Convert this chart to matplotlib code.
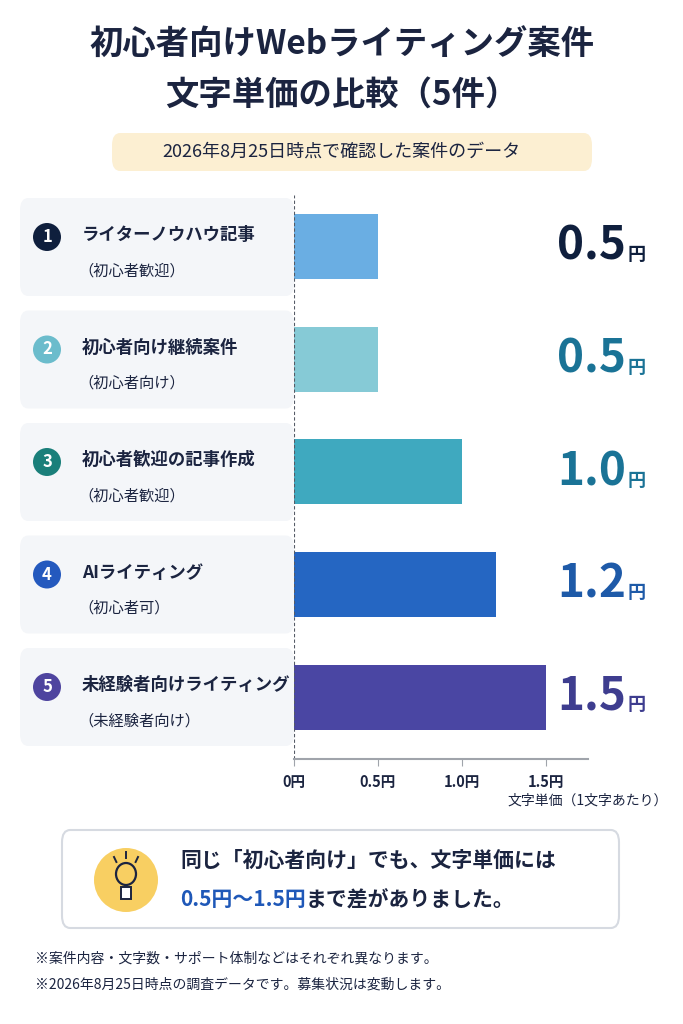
import matplotlib
matplotlib.use("Agg")
import matplotlib.pyplot as plt
from matplotlib.patches import FancyBboxPatch, Ellipse, Rectangle
from matplotlib.lines import Line2D

plt.rcParams['font.family'] = ['Noto Sans CJK JP', 'DejaVu Sans']

names = ["ライターノウハウ記事", "初心者向け継続案件", "初心者歓迎の記事作成", "AIライティング", "未経験者向けライティング"]
notes = ["（初心者歓迎）", "（初心者向け）", "（初心者歓迎）", "（初心者可）", "（未経験者向け）"]
prices = [0.5, 0.5, 1.0, 1.2, 1.5]
ticks = [0, 0.5, 1.0, 1.5]
tick_labels = ["0", "0.5", "1.0", "1.5"]

bar_colors = ["#6aaee3", "#86cad6", "#3fa9bf", "#2566c2", "#4a46a3"]
circle_colors = ["#0f1f3d", "#6bbccc", "#1a7f7a", "#2459be", "#4e449f"]
value_colors = ["#0f1f3d", "#1a7396", "#1a7396", "#1e5aa8", "#3e3d8f"]

W, H = 683, 1024
fig = plt.figure(figsize=(W / 100, H / 100), dpi=100)
fig.patch.set_facecolor("white")

def fx(px):
    return px / W

def fy(py):
    return 1 - py / H

# title
fig.text(0.5, fy(45), "初心者向けWebライティング案件", ha="center", va="center",
         fontsize=24, fontweight="bold", color="#1b2440")
fig.text(0.5, fy(95), "文字単価の比較（5件）", ha="center", va="center",
         fontsize=24, fontweight="bold", color="#1b2440")
fig.patches.append(FancyBboxPatch((fx(112), fy(171)), fx(480), 38 / H,
                                  boxstyle="round,pad=0,rounding_size=0.012",
                                  transform=fig.transFigure, fc="#fcefd2", ec="none"))
fig.text(0.5, fy(152), "2026年8月25日時点で確認した案件のデータ", ha="center", va="center",
         fontsize=13, color="#1b2440")

# bar axes
ax = fig.add_axes([fx(294), fy(759), fx(588 - 294), (759 - 195) / H])
rows = list(range(len(prices)))
ax.barh(rows, prices, height=65 / 112.5, color=bar_colors)
ax.set_xlim(0, 1.75)
ax.set_ylim(4.551, -0.462)
for s in ["top", "right", "left"]:
    ax.spines[s].set_visible(False)
ax.spines["bottom"].set_color("#a0a4ab")
ax.spines["bottom"].set_linewidth(1.5)
ax.axvline(0, color="#555b66", lw=0.8, ls=(0, (3, 2)))
ax.set_yticks([])
ax.set_xticks(ticks)
ax.set_xticklabels([t + "円" for t in tick_labels], fontsize=10.5, fontweight="bold", color="#1b2440")
ax.tick_params(axis="x", length=5, color="#a0a4ab", pad=6)
ax.patch.set_alpha(0)
fig.text(fx(668), fy(801), "文字単価（1文字あたり）", ha="right", va="center",
         fontsize=10, color="#1b2440")

# left label panels and values
for i in rows:
    cy = 247 + 112.5 * i
    fig.patches.append(FancyBboxPatch((fx(20), fy(cy + 49)), fx(274), 98 / H,
                                      boxstyle="round,pad=0,rounding_size=0.012",
                                      transform=fig.transFigure, fc="#f4f6f9", ec="none", zorder=0))
    fig.patches.append(Ellipse((fx(47), fy(cy - 10)), fx(28), 28 / H,
                               transform=fig.transFigure, fc=circle_colors[i], ec="none"))
    fig.text(fx(47), fy(cy - 10), str(i + 1), ha="center", va="center",
             fontsize=12, fontweight="bold", color="white")
    fig.text(fx(82), fy(cy - 12), names[i], ha="left", va="center",
             fontsize=12.5, fontweight="bold", color="#1b2440")
    fig.text(fx(78), fy(cy + 24), notes[i], ha="left", va="center",
             fontsize=11, color="#1b2440")
    fig.text(fx(626), fy(cy), f"{prices[i]:.1f}", ha="right", va="center",
             fontsize=33, fontweight="bold", color=value_colors[i])
    fig.text(fx(628), fy(cy + 8), "円", ha="left", va="center",
             fontsize=13, fontweight="bold", color=value_colors[i])

# note box
fig.patches.append(FancyBboxPatch((fx(62), fy(928)), fx(557), 98 / H,
                                  boxstyle="round,pad=0,rounding_size=0.012",
                                  transform=fig.transFigure, fc="white", ec="#d6dae1", lw=1.5))
fig.patches.append(Ellipse((fx(126), fy(880)), fx(64), 64 / H,
                           transform=fig.transFigure, fc="#f8cf62", ec="none"))
# lightbulb icon drawn as shapes
bulb_c = "#1b2440"
fig.patches.append(Ellipse((fx(126), fy(874)), fx(20), 22 / H, transform=fig.transFigure,
                           fc="none", ec=bulb_c, lw=1.6))
fig.patches.append(Rectangle((fx(121), fy(899)), fx(10), 12 / H, transform=fig.transFigure,
                             fc="white", ec=bulb_c, lw=1.4))
for dx, dy0, dy1 in [(0, 852, 858), (-12, 857, 862), (12, 857, 862)]:
    fig.lines.append(Line2D([fx(126 + dx), fx(126 + dx * 0.8)], [fy(dy0), fy(dy1)],
                            transform=fig.transFigure, color=bulb_c, lw=1.4))

fig.text(fx(180), fy(860), "同じ「初心者向け」でも、文字単価には", ha="left", va="center",
         fontsize=15, fontweight="bold", color="#1b2440")
t1 = fig.text(fx(180), fy(900), "0.5円〜1.5円", ha="left", va="center",
              fontsize=15, fontweight="bold", color="#1f58b8")
fig.canvas.draw()
bb = t1.get_window_extent(fig.canvas.get_renderer())
fig.text(bb.x1 / fig.bbox.width, fy(900), "まで差がありました。", ha="left", va="center",
         fontsize=15, fontweight="bold", color="#1b2440")

fig.text(fx(35), fy(958), "※案件内容・文字数・サポート体制などはそれぞれ異なります。",
         ha="left", va="center", fontsize=10, color="#1b2440")
fig.text(fx(35), fy(985), "※2026年8月25日時点の調査データです。募集状況は変動します。",
         ha="left", va="center", fontsize=10, color="#1b2440")

fig.savefig("out.png", dpi=100)
